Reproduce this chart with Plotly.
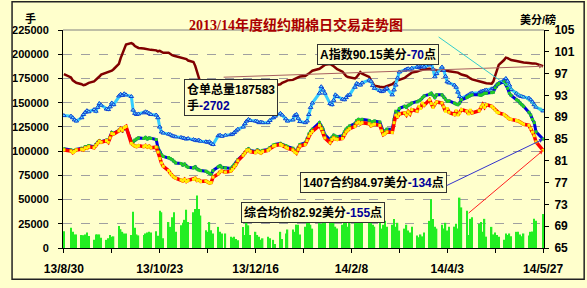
import plotly.graph_objects as go
import pandas as pd

# ---------------- data ----------------
HOLIDAYS = ['2013-09-02', '2013-11-28', '2013-12-25', '2014-01-01',
            '2014-01-20', '2014-02-17', '2014-04-18', '2014-05-26']

# weekly rows of daily values (one row per trading week)
STOCK_K = [  # 仓单总量, thousands of 手
    [179.5],
    [176, 173, 171.5, 170.5],
    [169, 168, 168.5, 169.5, 170.5],
    [172, 173.5, 175, 177, 179],
    [181, 182, 182.5, 183, 184.5],
    [190, 196, 201, 206, 210],
    [211.5, 210.5, 208.5, 207, 206.5],
    [206, 205.5, 205, 205, 204.5],
    [204, 203, 203.5, 202, 201.5],
    [201.5, 200, 199, 198.5, 198],
    [197, 196.5, 196, 195, 193.5],
    [192, 188, 182, 176, 170],
    [164, 159, 157, 156, 156.5],
    [157, 157.5, 158, 158],
    [157.5, 157, 156.5, 157, 158],
    [159, 160, 161, 161.5, 161],
    [161.5, 162.5, 163.5, 165, 166],
    [166.5, 167, 167.5, 168],
    [169, 170.5, 172, 173],
    [173.5, 174.5, 175, 176, 177],
    [177.5, 178.5, 180, 181.5, 183],
    [185, 186.5, 188, 189],
    [190, 189, 187.5, 186, 184.5],
    [182, 179.5, 177.5, 176.5, 176],
    [175, 176.5, 179, 181.5, 180],
    [176.5, 173, 169.5, 167.5],
    [166.5, 166, 166, 166.5, 167],
    [169, 170.5, 172, 173, 173.5],
    [175.5, 177, 178.5, 180, 181],
    [182, 183, 183.5, 184, 184.5],
    [185, 184.5, 184, 183.5, 183.5],
    [183, 183, 183.5, 183, 182.5],
    [182, 181.5, 181, 180, 179],
    [177.5, 176, 175, 174],
    [172.5, 171.5, 171, 170.5, 170],
    [169.5, 172, 178, 184, 189],
    [194, 196.5, 196, 195, 194],
    [193, 192.5, 192, 191.5, 191.5],
    [191, 190.5, 190.5, 190.5, 190.285],
    [187.583],
]

A_INDEX = [  # A指数, US cents/lb
    [89.3],
    [89.2, 88.9, 88.5, 88.3],
    [88.9, 89.5, 89.9, 90.2, 90.0],
    [90.4, 90.1, 90.8, 91.5, 91.2],
    [90.5, 90.4, 90.9, 91.6, 91.3],
    [92.9, 93.2, 93.0, 93.3, 93.1],
    [92.8, 90.3, 89.7, 89.5, 89.6],
    [89.8, 90.0, 89.9, 89.7, 89.5],
    [89.4, 88.9, 87.2, 86.3, 86.1],
    [85.9, 85.8, 85.6, 85.5, 85.4],
    [85.3, 85.2, 85.1, 85.0, 85.1],
    [84.9, 84.8, 84.7, 84.8, 84.6],
    [84.5, 84.4, 84.5, 84.2, 84.0],
    [85.6, 85.7, 85.5, 85.7],
    [85.8, 85.9, 86.2, 86.5, 86.8],
    [87.2, 87.8, 88.3, 88.6, 88.4],
    [88.3, 88.2, 88.0, 88.1, 88.0],
    [88.0, 88.4, 88.9, 89.2],
    [89.7, 89.4, 88.7, 88.3],
    [88.5, 89.3, 89.5, 88.8, 88.2],
    [88.0, 88.3, 89.5, 90.8, 91.6],
    [93.4, 94.6, 94.0, 93.4],
    [91.5, 91.3, 92.1, 93.1, 92.8],
    [92.3, 92.2, 92.6, 93.0, 93.1],
    [94.5, 95.2, 95.0, 94.9, 95.3],
    [95.8, 95.6, 94.8, 94.3],
    [93.9, 93.7, 93.8, 94.1, 94.3],
    [93.1, 94.0, 94.9, 96.2, 97.3],
    [97.6, 97.8, 97.9, 97.7, 98.0],
    [98.2, 98.1, 98.3, 98.4, 98.2],
    [98.6, 99.05, 97.8, 96.4, 97.0],
    [98.2, 97.6, 96.5, 95.5, 95.3],
    [94.9, 94.5, 93.6, 92.8, 92.5],
    [92.9, 93.1, 93.3, 93.4],
    [93.5, 93.7, 93.8, 93.9, 94.0],
    [94.2, 94.3, 94.6, 95.0, 95.2],
    [95.8, 96.1, 95.6, 94.9, 94.1],
    [93.4, 93.1, 92.9, 92.8, 92.7],
    [92.5, 92.2, 91.8, 91.3, 90.85],
    [90.15],
]

C1407 = [  # 1407合约, US cents/lb
    [83.2],
    [83.0, 82.7, 82.9, 83.1],
    [83.3, 83.2, 83.6, 83.5, 83.8],
    [83.6, 84.0, 84.4, 84.7, 84.5],
    [84.8, 84.6, 85.3, 86.2, 86.0],
    [86.6, 86.8, 86.5, 87.0, 87.1],
    [84.6, 84.5, 84.8, 85.0, 85.2],
    [85.1, 85.3, 85.0, 85.2, 85.1],
    [84.9, 83.4, 82.6, 82.1, 81.8],
    [81.6, 81.4, 81.2, 80.9, 80.6],
    [80.5, 80.2, 80.4, 80.0, 79.8],
    [79.7, 79.9, 79.5, 79.3, 79.2],
    [79.1, 78.9, 78.7, 78.5, 79.2],
    [79.9, 80.1, 79.8, 79.7],
    [79.6, 79.9, 80.3, 80.6, 81.2],
    [82.1, 82.5, 83.0, 83.2, 82.9],
    [82.7, 83.0, 82.8, 82.6, 82.9],
    [83.1, 83.4, 83.9, 84.0],
    [84.2, 84.0, 83.8, 83.6],
    [83.3, 82.9, 82.7, 83.4, 84.0],
    [84.3, 85.0, 85.9, 86.4, 86.8],
    [88.0, 87.4, 86.8, 85.8],
    [84.8, 85.3, 85.7, 85.5, 85.4],
    [85.6, 86.3, 86.8, 87.1, 87.4],
    [87.8, 88.4, 88.6, 88.4, 88.6],
    [88.4, 88.0, 88.2, 88.3],
    [88.1, 87.0, 86.3, 86.5, 86.8],
    [86.8, 88.6, 90.1, 89.8, 90.6],
    [91.0, 90.8, 91.2, 91.3, 91.6],
    [91.8, 92.0, 92.2, 92.6, 92.9],
    [93.2, 93.4, 93.0, 92.6, 93.1],
    [93.1, 92.7, 92.3, 91.9, 92.0],
    [91.6, 91.4, 91.3, 91.6, 92.2],
    [92.6, 92.8, 93.0, 93.1],
    [93.1, 93.0, 93.2, 93.4, 93.4],
    [93.5, 93.6, 94.4, 94.9, 95.2],
    [95.5, 95.0, 94.3, 93.4, 93.0],
    [92.2, 92.0, 91.6, 91.3, 91.0],
    [89.9, 89.4, 88.6, 88.0, 86.31],
    [84.97],
]

AVG = [  # 综合均价, US cents/lb
    [83.0],
    [82.8, 82.5, 82.7, 83.0],
    [83.1, 83.0, 83.4, 83.3, 83.6],
    [83.4, 83.8, 84.2, 84.6, 84.4],
    [84.7, 84.4, 85.2, 86.0, 85.9],
    [86.5, 86.9, 86.6, 87.1, 87.3],
    [84.2, 83.9, 83.7, 83.6, 83.8],
    [83.6, 83.8, 83.5, 83.7, 83.4],
    [83.5, 82.6, 81.4, 80.6, 80.0],
    [79.2, 78.7, 78.3, 78.0, 77.8],
    [77.5, 77.3, 77.6, 77.2, 77.4],
    [77.6, 77.8, 77.4, 77.5, 77.2],
    [77.3, 77.1, 76.9, 77.0, 78.0],
    [78.6, 79.0, 79.1, 78.9],
    [79.1, 79.4, 79.9, 80.3, 81.0],
    [82.0, 82.4, 82.9, 83.0, 82.7],
    [82.5, 82.8, 82.6, 82.4, 82.7],
    [82.9, 83.2, 83.7, 83.8],
    [84.0, 83.8, 83.5, 83.3],
    [83.0, 82.6, 82.4, 83.1, 83.7],
    [84.0, 84.7, 85.5, 86.0, 86.4],
    [87.5, 86.9, 86.2, 85.2],
    [84.3, 84.9, 85.2, 85.0, 84.9],
    [85.1, 85.8, 86.3, 86.6, 86.9],
    [87.3, 87.9, 88.1, 87.8, 88.0],
    [87.8, 87.4, 87.6, 87.7],
    [87.5, 86.5, 85.8, 86.0, 86.3],
    [86.2, 88.0, 89.4, 89.1, 89.6],
    [89.8, 89.4, 90.0, 89.6, 90.4],
    [90.1, 91.0, 90.6, 91.6, 91.2],
    [92.2, 91.5, 90.8, 91.4, 91.8],
    [91.6, 90.9, 90.1, 90.6, 89.9],
    [89.5, 90.2, 89.4, 89.8, 90.4],
    [90.1, 89.6, 90.3, 89.8],
    [90.2, 90.9, 91.3, 90.8, 91.3],
    [91.0, 90.7, 90.3, 89.9, 89.8],
    [89.5, 89.2, 88.9, 88.7, 88.6],
    [88.4, 88.3, 88.1, 87.9, 87.7],
    [87.5, 86.9, 86.25, 85.6, 84.47],
    [82.92],
]

VOLUME_K = [  # daily volume, thousands of 手
    [17.4],
    [20.8, 16.7, 14.0, 14.0],
    [13.4, 13.2, 14.0, 16.0, 12.5],
    [8.4, 14.0, 14.0, 14.0, 10.7],
    [8.4, 10.0, 13.4, 11.7, 12.0],
    [22.8, 19.4, 16.7, 15.0, 15.0],
    [13.4, 37.5, 20.8, 14.0, 13.0],
    [13.4, 15.0, 16.0, 16.7, 16.0],
    [17.4, 12.7, 38.5, 36.9, 10.0],
    [26.8, 21.8, 31.8, 36.9, 16.7],
    [23.4, 26.1, 29.1, 39.5, 26.8],
    [36.9, 40.2, 54.3, 40.2, 33.5],
    [18.4, 16.7, 26.8, 18.4, 15.0],
    [21.8, 16.7, 15.0, 15.0],
    [11.7, 10.7, 11.7, 9.4, 8.0],
    [21.8, 13.4, 27.5, 23.4, 13.4],
    [16.7, 13.4, 11.7, 8.4, 10.0],
    [11.7, 10.0, 8.4, 4.0],
    [16.7, 9.4, 15.0, 19.1],
    [19.1, 16.7, 24.1, 24.1, 14.0],
    [22, 26, 30, 24, 20],
    [28, 25, 32, 27],
    [40.2, 30, 26, 22, 20],
    [24, 28, 30, 22, 26],
    [46.9, 43.5, 44, 46.9, 30],
    [43.5, 28, 24, 22],
    [26, 20, 24, 28, 22],
    [24, 30, 22, 26, 18],
    [20, 24, 18, 16, 22],
    [13, 11, 14, 12, 16],
    [28, 50.2, 30, 22, 20],
    [24, 20, 26, 18, 22],
    [22, 25, 20, 52, 41.9],
    [38.5, 13.4, 30.1, 31.8],
    [25.1, 26.8, 16.7, 30.1, 11.7],
    [21.8, 14, 16, 13.4, 11.7],
    [8.4, 15, 13.4, 15, 12],
    [16.7, 16.7, 14, 12, 15],
    [13, 16.7, 17, 30.1, 28],
    [35.2],
]

TICK_DATES = ['2013-08-30', '2013-09-26', '2013-10-23', '2013-11-19', '2013-12-16',
              '2014-01-12', '2014-02-08', '2014-03-07', '2014-04-03', '2014-04-30',
              '2014-05-27']
TICK_LABELS = ['13/8/30', '', '13/10/23', '', '13/12/16', '', '14/2/8', '',
               '14/4/3', '', '14/5/27']

TITLE = '2013/14年度纽约期棉日交易走势图'

# ---------------- build ----------------
def flat(rows):
    return [v for r in rows for v in r]

dates = [d for d in pd.bdate_range('2013-08-30', '2014-05-27')
         if d.strftime('%Y-%m-%d') not in HOLIDAYS]
stock = [v * 1000 for v in flat(STOCK_K)]
volume = [v * 1000 for v in flat(VOLUME_K)]
a_idx = flat(A_INDEX)
c1407 = flat(C1407)
avg = flat(AVG)
for s in (stock, volume, a_idx, c1407, avg):
    assert len(s) == len(dates), (len(s), len(dates))

W, H = 587, 288
L, R, T, B = 53, 43, 30, 34
PW, PH = W - L - R, H - T - B

def px(x):
    return (x - L) / PW

def py(y):
    return (H - B - y) / PH

BG = '#FFFFCC'
FONT = 'Liberation Sans, Arial, Noto Sans CJK SC, sans-serif'
CJK = 'Liberation Sans, Noto Sans CJK SC, sans-serif'
NAVY = '#000099'

fig = go.Figure()
fig.add_trace(go.Bar(x=dates, y=volume, yaxis='y', marker_color='#22EE22',
                     marker_line_width=0, name='成交量'))
fig.add_trace(go.Scatter(x=dates, y=stock, yaxis='y', mode='lines',
                         line=dict(color='#800000', width=2.5), name='仓单'))
fig.add_trace(go.Scatter(x=dates, y=a_idx, yaxis='y2', mode='lines+markers',
                         line=dict(color='#33CCFF', width=3),
                         marker=dict(symbol='triangle-up', size=4, color='#66DDFF',
                                     line=dict(color='#1040D0', width=1)),
                         name='A指数'))
fig.add_trace(go.Scatter(x=dates, y=c1407, yaxis='y2', mode='lines+markers',
                         line=dict(color='#0000DD', width=3),
                         marker=dict(symbol='square', size=3, color='#22CC22',
                                     line=dict(width=0)),
                         name='1407'))
fig.add_trace(go.Scatter(x=dates, y=avg, yaxis='y2', mode='lines+markers',
                         line=dict(color='#FF0000', width=3.5),
                         marker=dict(symbol='square', size=3, color='#FFEE00',
                                     line=dict(width=0)),
                         name='综合均价'))

boxes = [
    (177, 80, '<b>仓单总量187583<br>手<span style="color:%s">-2702</span></b>' % NAVY),
    (374.5, 44.5, '<b>A指数90.15美分<span style="color:%s">-70</span>点</b>' % NAVY),
    (370, 197, '<b>1407合约84.97美分<span style="color:%s">-134</span>点</b>' % NAVY),
    (382, 228, '<b>综合均价82.92美分<span style="color:%s">-155</span>点</b>' % NAVY),
]
ann = []
# connector lines from boxes to the last points
last = dates[-1]
for yv, yr, axp, ayp, col in [
        (stock[-1], 'y', -321, 11, '#A86060'),
        (a_idx[-1], 'y2', -106, -75, '#33CCCC'),
        (c1407[-1], 'y2', -106, 51, '#3333CC'),
        (avg[-1], 'y2', -76, 64, '#FF2020')]:
    ann.append(dict(x=last, y=yv, xref='x', yref=yr, ax=axp, ay=ayp, text='',
                    showarrow=True, arrowhead=2, arrowsize=0.8, arrowwidth=1,
                    arrowcolor=col))
for bx, by, txt in boxes:
    ann.append(dict(x=px(bx), y=py(by), xref='paper', yref='paper', text=txt,
                    showarrow=False, align='left', bgcolor=BG,
                    bordercolor='#333333', borderwidth=1, borderpad=2,
                    font=dict(family=CJK, size=12, color='black')))
ann.append(dict(x=px(291), y=py(15), xref='paper', yref='paper',
                text='<b>%s</b>' % TITLE, showarrow=False,
                font=dict(family='Liberation Serif, Noto Sans CJK SC, serif',
                          size=14, color='#AA0000')))
ann.append(dict(x=px(12), y=py(9), xref='paper', yref='paper', text='<b>手</b>',
                showarrow=False, font=dict(family=CJK, size=11, color='black')))
ann.append(dict(x=px(558), y=py(10), xref='paper', yref='paper', text='<b>美分/磅</b>',
                showarrow=False, font=dict(family=CJK, size=11, color='black')))

shapes = [
    dict(type='line', xref='paper', yref='paper', x0=0, x1=1, y0=1, y1=1,
         line=dict(color='#808080', width=1), layer='below'),
    dict(type='rect', xref='paper', yref='paper', x0=px(1), x1=px(585),
         y0=py(286), y1=py(1), line=dict(color='#222222', width=1.5)),
]

fig.update_layout(
    width=W, height=H, margin=dict(l=L, r=R, t=T, b=B, pad=0),
    paper_bgcolor=BG, plot_bgcolor=BG, showlegend=False, bargap=0.2,
    annotations=ann, shapes=shapes,
    xaxis=dict(type='date', range=['2013-08-29 12:00', '2014-05-27 12:00'],
               tickvals=TICK_DATES, ticktext=TICK_LABELS, showgrid=False,
               showline=True, linecolor='black', linewidth=1,
               ticks='outside', ticklen=4, tickcolor='black',
               tickfont=dict(family=FONT, size=12, color='black', weight='bold'),
               ticklabelstandoff=6, zeroline=False),
    yaxis=dict(range=[0, 225000], dtick=25000, tick0=0, tickformat='d',
               showline=True, linecolor='black', linewidth=1,
               ticks='outside', ticklen=4, tickcolor='black',
               showgrid=True, gridcolor='#A0A0A0', griddash='dash', gridwidth=1,
               zeroline=False, ticklabelstandoff=7,
               tickfont=dict(family=FONT, size=11, color='black', weight='bold')),
    yaxis2=dict(range=[65, 105], dtick=4, tick0=65, overlaying='y', side='right',
                showline=True, linecolor='black', linewidth=1,
                ticks='outside', ticklen=4, tickcolor='black', showgrid=False,
                zeroline=False, ticklabelstandoff=3,
                tickfont=dict(family=FONT, size=12, color='black', weight='bold')),
)

fig.write_html('out.html')
